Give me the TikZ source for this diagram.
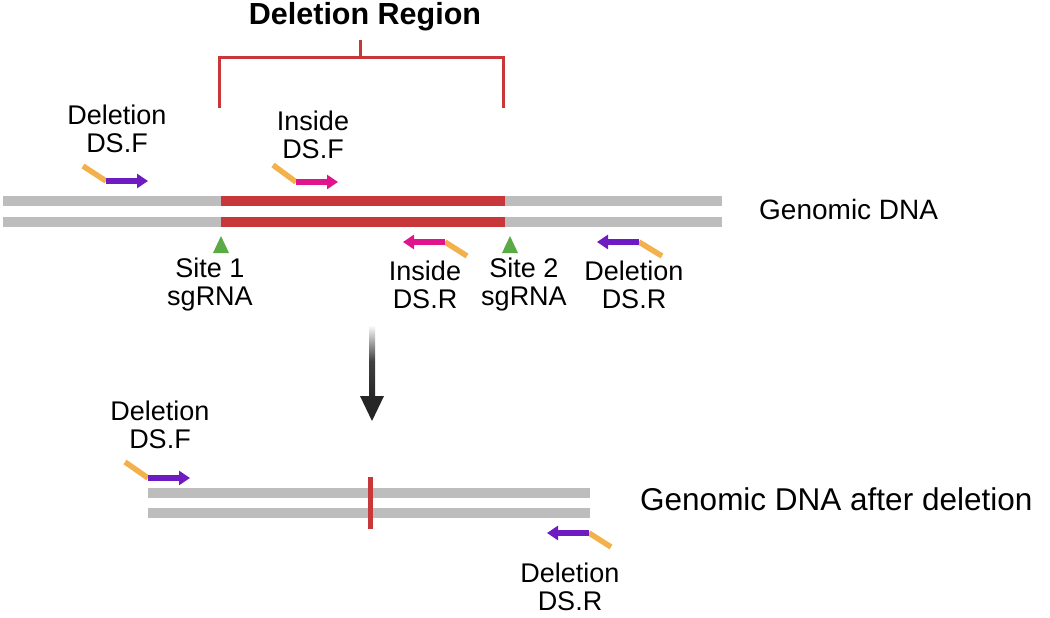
\documentclass[tikz,border=0pt]{standalone}
\usepackage{fontspec}
\setmainfont{Liberation Sans}
\usetikzlibrary{arrows.meta}
\definecolor{dnagray}{HTML}{BDBDBD}
\definecolor{dred}{HTML}{C8373A}
\definecolor{porange}{HTML}{F2B14A}
\definecolor{ppurple}{HTML}{6E1BC2}
\definecolor{ppink}{HTML}{E0158E}
\definecolor{sgreen}{HTML}{5AAA46}
\begin{document}
\begin{tikzpicture}[x=1pt,y=-1pt,
  strand/.style={draw=dnagray,line width=9.5pt},
  redstrand/.style={draw=dred,line width=9.5pt},
  bracket/.style={draw=dred,line width=3pt},
  tail/.style={draw=porange,line width=5.5pt},
  fwdp/.style={line width=5.5pt,-{Triangle[length=11pt,width=14pt]}},
  lbl/.style={font=\fontsize{27}{28}\selectfont,align=center,inner sep=0pt},
  big/.style={font=\fontsize{28}{30}\selectfont,inner sep=0pt,anchor=west},
  site/.style={fill=sgreen}]
\useasboundingbox (0,0) rectangle (1050,618);

% ---- title and bracket
\node[font=\bfseries\fontsize{30.5}{32}\selectfont,inner sep=0pt] (title) at (365,17) {Deletion Region};
\coordinate (bt) at (360,40);
\coordinate (bm) at (360,58);
\coordinate (bl) at (219,58);
\coordinate (br) at (503,58);
\coordinate (bld) at (219,108);
\coordinate (brd) at (503,108);
\draw[bracket] (bt) -- (bm);
\draw[bracket] (bld) -- (bl) -- (br) -- (brd);

% ---- top genomic DNA
\coordinate (a1) at (3,201);   \coordinate (b1) at (722,201);
\coordinate (a2) at (3,222);   \coordinate (b2) at (722,222);
\coordinate (r1s) at (221,201); \coordinate (r1e) at (505,201);
\coordinate (r2s) at (221,222); \coordinate (r2e) at (505,222);
\draw[strand] (a1) -- (b1);
\draw[strand] (a2) -- (b2);
\draw[redstrand] (r1s) -- (r1e);
\draw[redstrand] (r2s) -- (r2e);
\node[big] (gdna) at (759,209) {Genomic DNA};

% ---- top primers
\coordinate (dfo) at (83,166); \coordinate (dfj) at (106,181); \coordinate (dfe) at (148,181);
\draw[tail] (dfo) -- (dfj);
\draw[fwdp,draw=ppurple,fill=ppurple] (dfj) -- (dfe);
\node[lbl] (ldf) at (117,129) {Deletion\\DS.F};

\coordinate (ifo) at (273,165); \coordinate (ifj) at (296,182); \coordinate (ife) at (338,182);
\draw[tail] (ifo) -- (ifj);
\draw[fwdp,draw=ppink,fill=ppink] (ifj) -- (ife);
\node[lbl] (lif) at (313,135) {Inside\\DS.F};

\coordinate (iro) at (467,256); \coordinate (irj) at (445,242); \coordinate (ire) at (403,242);
\draw[tail] (iro) -- (irj);
\draw[fwdp,draw=ppink,fill=ppink] (irj) -- (ire);
\node[lbl] (lir) at (425,285) {Inside\\DS.R};

\coordinate (dro) at (662,256); \coordinate (drj) at (639,242); \coordinate (dre) at (597,242);
\draw[tail] (dro) -- (drj);
\draw[fwdp,draw=ppurple,fill=ppurple] (drj) -- (dre);
\node[lbl] (ldr) at (634,285) {Deletion\\DS.R};

% ---- sgRNA sites
\fill[site] (213,253) -- (229,253) -- (221,236) -- cycle;
\node[lbl] (ls1) at (210,285) {Site 1\\sgRNA};
\fill[site] (502,253) -- (518,253) -- (510,236) -- cycle;
\node[lbl] (ls2) at (524,285) {Site 2\\sgRNA};

% ---- arrow
\coordinate (arS) at (372,325);
\coordinate (arE) at (372,421);
\shade[top color=white,bottom color=black!85,middle color=black!75] (369,325) rectangle (375,397);
\fill[black!85] (360,396) -- (384,396) -- (arE) -- cycle;

% ---- bottom genomic DNA
\coordinate (c1) at (148,493); \coordinate (d1) at (590,493);
\coordinate (c2) at (148,513); \coordinate (d2) at (590,513);
\draw[strand] (c1) -- (d1);
\draw[strand] (c2) -- (d2);
\coordinate (cut1) at (370.5,477); \coordinate (cut2) at (370.5,529);
\draw[draw=dred,line width=5pt] (cut1) -- (cut2);
\node[big,font=\fontsize{31.5}{33}\selectfont] (gdna2) at (640,499) {Genomic DNA after deletion};

% ---- bottom primers
\coordinate (bfo) at (125,462); \coordinate (bfj) at (148,478); \coordinate (bfe) at (190,478);
\draw[tail] (bfo) -- (bfj);
\draw[fwdp,draw=ppurple,fill=ppurple] (bfj) -- (bfe);
\node[lbl] (lbf) at (160,425) {Deletion\\DS.F};

\coordinate (bro) at (611,547); \coordinate (brj) at (589,533); \coordinate (bre) at (547,533);
\draw[tail] (bro) -- (brj);
\draw[fwdp,draw=ppurple,fill=ppurple] (brj) -- (bre);
\node[lbl] (lbr) at (570,587) {Deletion\\DS.R};
\end{tikzpicture}
\end{document}
